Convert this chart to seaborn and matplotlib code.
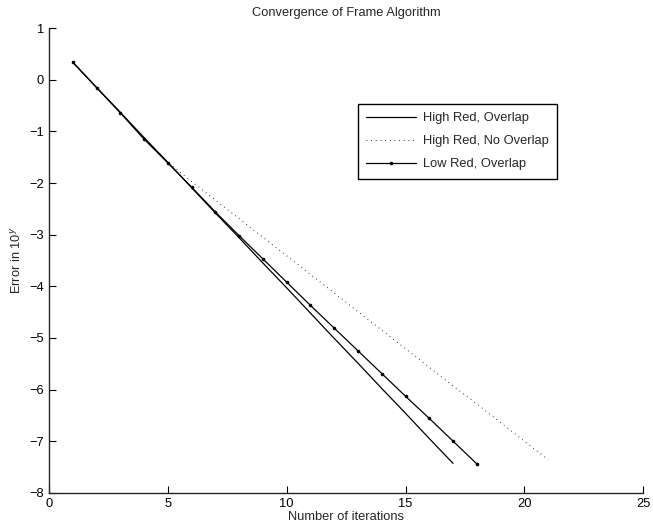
import matplotlib
matplotlib.use("Agg")
import matplotlib.pyplot as plt
import pandas as pd
import seaborn as sns

# iterations and log10 error for each run
iters_high_overlap = list(range(1, 18))
err_high_overlap = [0.34, -0.15, -0.63, -1.12, -1.60, -2.09, -2.58, -3.06, -3.55,
                    -4.03, -4.52, -5.01, -5.49, -5.98, -6.46, -6.95, -7.43]

iters_high_no_overlap = list(range(1, 22))
err_high_no_overlap = [0.34, -0.15, -0.63, -1.12, -1.60, -1.97, -2.33, -2.69, -3.05,
                       -3.41, -3.77, -4.13, -4.49, -4.85, -5.21, -5.57, -5.93, -6.28,
                       -6.64, -7.00, -7.36]

iters_low_overlap = list(range(1, 19))
err_low_overlap = [0.34, -0.15, -0.64, -1.15, -1.61, -2.08, -2.56, -3.02, -3.47,
                   -3.92, -4.37, -4.81, -5.25, -5.69, -6.13, -6.56, -7.00, -7.44]

labels = ["High Red, Overlap", "High Red, No Overlap", "Low Red, Overlap"]
x_ticks = [0, 5, 10, 15, 20, 25]
y_ticks = [1, 0, -1, -2, -3, -4, -5, -6, -7, -8]

sns.set_style("ticks")
plt.rcParams["font.family"] = ["Liberation Sans", "DejaVu Sans"]
plt.rcParams["xtick.direction"] = "in"
plt.rcParams["ytick.direction"] = "in"
plt.rcParams["axes.linewidth"] = 1.0

fs = 9.3
fig, ax = plt.subplots(figsize=(6.53, 5.31), dpi=100)
fig.subplots_adjust(left=0.075, right=0.985, top=0.947, bottom=0.072)

df1 = pd.DataFrame({"x": iters_high_overlap, "y": err_high_overlap})
df2 = pd.DataFrame({"x": iters_high_no_overlap, "y": err_high_no_overlap})
df3 = pd.DataFrame({"x": iters_low_overlap, "y": err_low_overlap})

sns.lineplot(data=df1, x="x", y="y", ax=ax, color="k", lw=0.9, label=labels[0])
sns.lineplot(data=df2, x="x", y="y", ax=ax, color="k", lw=0.7, ls=(0, (0.8, 4)),
             label=labels[1])
sns.lineplot(data=df3, x="x", y="y", ax=ax, color="k", lw=0.9, marker="o",
             markersize=2.6, markeredgewidth=0, label=labels[2])

ax.set_xlim(0, 25)
ax.set_ylim(-8, 1)
ax.set_xticks(x_ticks)
ax.set_yticks(y_ticks)
ax.tick_params(labelsize=fs, length=5, width=0.8, colors="k")
ax.set_xlabel("Number of iterations", fontsize=fs, labelpad=1)
ax.set_ylabel("Error in 10$^y$", fontsize=fs, labelpad=4)
ax.set_title("Convergence of Frame Algorithm", fontsize=fs, pad=9)
sns.despine(ax=ax)

leg = ax.legend(loc="upper right", bbox_to_anchor=(0.855, 0.837), fontsize=fs,
                frameon=True, fancybox=False, edgecolor="k", framealpha=1,
                handlelength=3.9, handletextpad=0.5, labelspacing=0.85,
                borderpad=0.65, borderaxespad=0)
leg.get_frame().set_linewidth(1.0)

fig.savefig("out.png", dpi=100)
